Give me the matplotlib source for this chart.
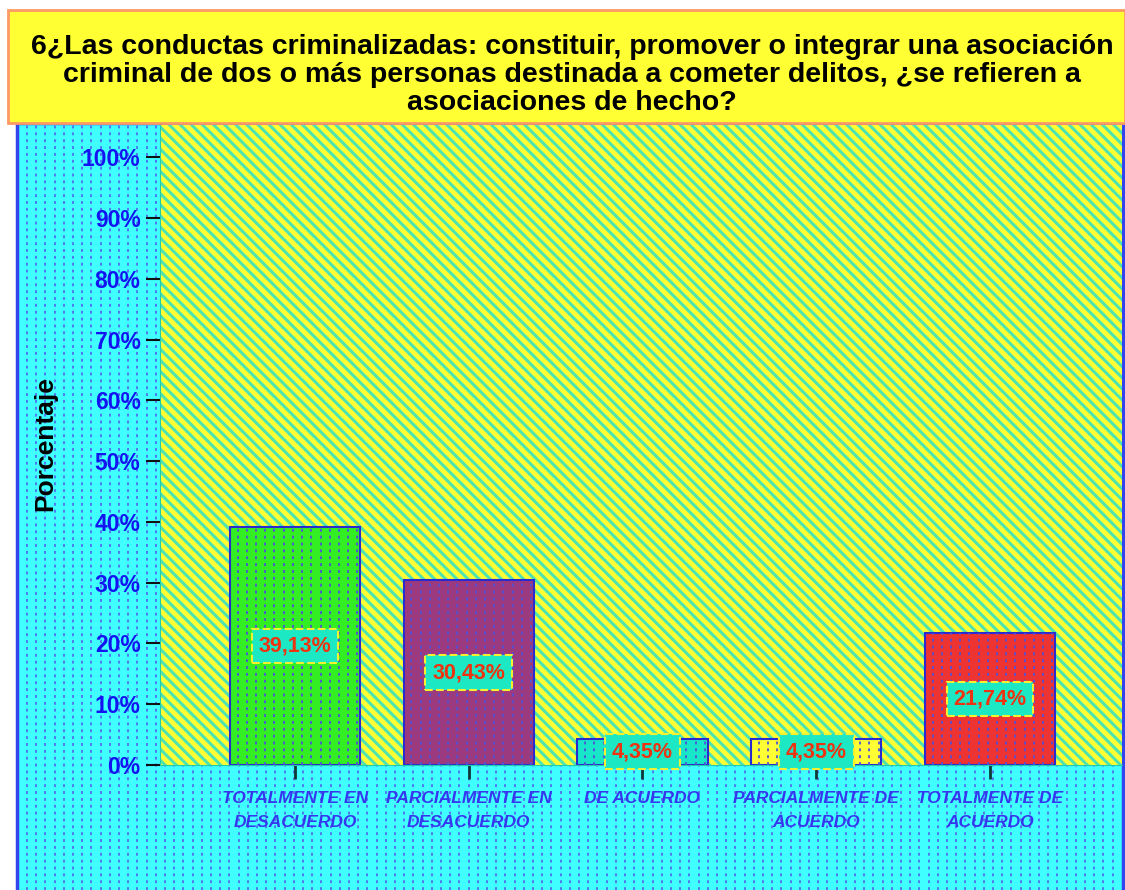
import numpy as np
import matplotlib
matplotlib.use('Agg')
import matplotlib.pyplot as plt
from matplotlib.patches import Rectangle
from matplotlib.lines import Line2D
from matplotlib.ticker import MultipleLocator, FuncFormatter

plt.rcParams['font.family'] = ['Liberation Sans', 'DejaVu Sans']
plt.rcParams['hatch.linewidth'] = 2.2

titulo = ('6¿Las conductas criminalizadas: constituir, promover o integrar una asociación\n'
          'criminal de dos o más personas destinada a cometer delitos, ¿se refieren a\n'
          'asociaciones de hecho?')
categorias = ['TOTALMENTE EN\nDESACUERDO', 'PARCIALMENTE EN\nDESACUERDO', 'DE ACUERDO',
              'PARCIALMENTE DE\nACUERDO', 'TOTALMENTE DE\nACUERDO']
porcentajes = [39.13, 30.43, 4.35, 4.35, 21.74]
colores = ['#33ee22', '#9b3a7e', '#18e6c8', '#ffff33', '#ee3333']

W, H = 1125, 890
fig = plt.figure(figsize=(W / 100, H / 100), dpi=100)
fig.patch.set_facecolor('white')

# fondo cian con lineas punteadas
fig.add_artist(Rectangle((17 / W, -0.01), (1123 - 17) / W, (H - 123) / H + 0.01,
                         transform=fig.transFigure, facecolor='#40ffff',
                         edgecolor='#3344ee', lw=2.5, zorder=-3))
for xp in np.arange(27, 1120, 9.2):
    fig.add_artist(Line2D([xp / W, xp / W], [0, (H - 125) / H], transform=fig.transFigure,
                          color='#4f6ef0', lw=1.3, ls=(0, (1.6, 2.2)), zorder=-2))

# caja del titulo
fig.add_artist(Rectangle((8 / W, (H - 123) / H), (W - 8) / W, 113 / H,
                         transform=fig.transFigure, facecolor='#ffff33',
                         edgecolor='#ff9966', lw=2, zorder=1))
fig.text(572 / W, 1 - 75 / H, titulo, ha='center', va='center', fontsize=20.5,
         fontweight='bold', color='black', linespacing=1.12, zorder=2)

ax = fig.add_axes([160 / W, 1 - 765 / H, (1122 - 160) / W, (765 - 125) / H])
ax.patch.set_alpha(0)
ax.add_patch(Rectangle((0, 0), 1, 1, transform=ax.transAxes, facecolor='#ffff33',
                       edgecolor='#4fe3b0', hatch='\\\\\\', lw=0, zorder=0))

x = np.arange(len(categorias))
bars = ax.bar(x, porcentajes, width=0.75, color=colores, edgecolor='#2a2ad0',
              linewidth=1.5, zorder=2)

# punteado dentro de las barras
for b in bars:
    xs = np.arange(b.get_x() + 0.045, b.get_x() + b.get_width(), 0.053)
    for xv in xs:
        ln, = ax.plot([xv, xv], [0, b.get_height()], color='#5050d8', lw=1.3,
                      ls=(0, (1.6, 2.2)), zorder=3)
        ln.set_clip_path(b)

for xi, v in zip(x, porcentajes):
    ax.text(xi, v / 2, ('%.2f%%' % v).replace('.', ','), ha='center', va='center',
            fontsize=15.5, fontweight='bold', color='#ee3311', zorder=5,
            bbox=dict(boxstyle='square,pad=0.32', facecolor='#1ce8c4',
                      edgecolor='#f5f030', linestyle='--', linewidth=1.5))

ax.set_xlim(-0.777, 4.76)
ax.set_ylim(0, 105.3)
ax.yaxis.set_major_locator(MultipleLocator(10))
ax.yaxis.set_major_formatter(FuncFormatter(lambda v, p: '%d%%' % v if v <= 100 else ''))
ax.set_xticks(x)
ax.set_xticklabels(categorias, fontsize=12.5, fontweight='bold', style='italic',
                   color='#3636ee', linespacing=1.72)
ax.tick_params(axis='x', length=10, width=2, color='#103838', pad=9)
ax.tick_params(axis='y', length=10, width=1.5, color='#111111', labelsize=16.5,
               labelcolor='#1414f0', pad=4)
for t in ax.get_yticklabels():
    t.set_fontweight('bold')

for s in ['top', 'right']:
    ax.spines[s].set_visible(False)
ax.spines['left'].set_color('#22ccaa')
ax.spines['bottom'].set_color('#22ccaa')
ax.spines['bottom'].set_zorder(4)

fig.text(45 / W, 1 - 444 / H, 'Porcentaje', rotation=90, ha='center', va='center',
         fontsize=19, fontweight='bold', color='black')

fig.savefig('out.png', dpi=100)
